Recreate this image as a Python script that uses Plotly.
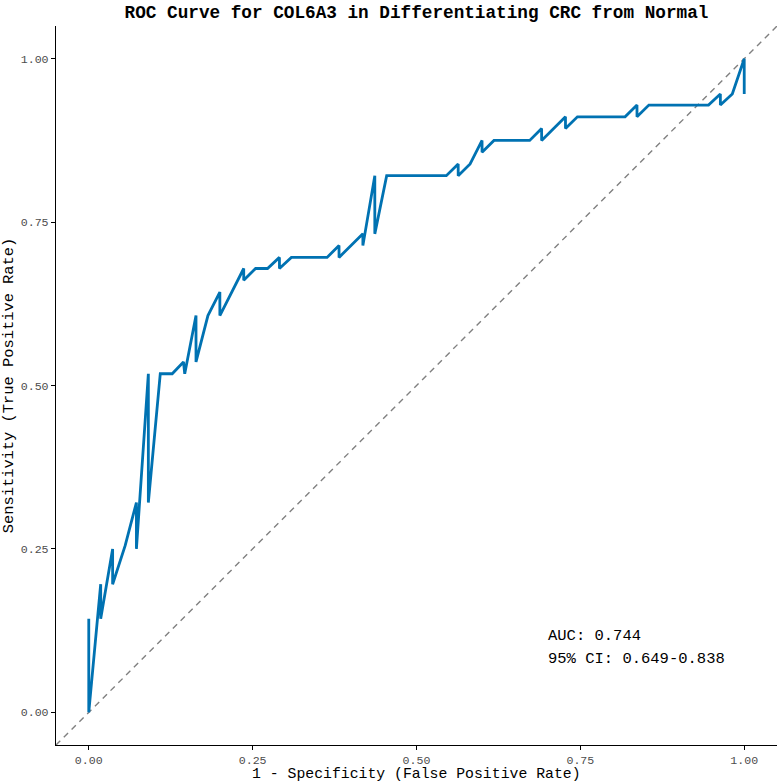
import plotly.graph_objects as go

# ROC curve path as drawn (false positive rate, true positive rate)
fpr = [0.0, 0.0, 0.0182, 0.0182, 0.0364, 0.0364, 0.0555, 0.0727, 0.0727,
       0.0909, 0.0909, 0.1091, 0.1273, 0.1445, 0.1464, 0.1636, 0.1636, 0.1818,
       0.2, 0.2, 0.2364, 0.2364, 0.2545, 0.2727, 0.2909, 0.2909, 0.3091,
       0.3636, 0.3818, 0.3818, 0.4182, 0.4182, 0.4364, 0.4364, 0.4545,
       0.5455, 0.5636, 0.5636, 0.5818, 0.6, 0.6, 0.6182, 0.6727, 0.6909,
       0.6909, 0.7273, 0.7273, 0.7455, 0.8182, 0.8364, 0.8364, 0.8545,
       0.9455, 0.9636, 0.9636, 0.9818, 1.0, 1.0]
tpr = [0.143, 0.0, 0.196, 0.143, 0.25, 0.196, 0.255, 0.321, 0.25,
       0.518, 0.321, 0.518, 0.518, 0.536, 0.518, 0.607, 0.536, 0.607,
       0.643, 0.607, 0.679, 0.661, 0.679, 0.679, 0.696, 0.679, 0.696,
       0.696, 0.714, 0.696, 0.732, 0.714, 0.821, 0.732, 0.821,
       0.821, 0.839, 0.821, 0.839, 0.875, 0.857, 0.875, 0.875, 0.893,
       0.875, 0.911, 0.893, 0.911, 0.911, 0.929, 0.911, 0.929,
       0.929, 0.946, 0.929, 0.946, 1.0, 0.946]

ref_line = [-0.05, 1.05]
tick_vals = [0.0, 0.25, 0.5, 0.75, 1.0]
tick_text = ["0.00", "0.25", "0.50", "0.75", "1.00"]
auc_text = "AUC: 0.744"
ci_text = "95% CI: 0.649-0.838"
x_title = "1 - Specificity (False Positive Rate)"
y_title = "Sensitivity (True Positive Rate)"

FONT = "Liberation Mono"

fig = go.Figure()
fig.add_trace(go.Scatter(x=ref_line, y=ref_line, mode="lines",
                         line=dict(color="#808080", width=1.4, dash="6px,5px"),
                         hoverinfo="skip", showlegend=False))
fig.add_trace(go.Scatter(x=fpr, y=tpr, mode="lines",
                         line=dict(color="#0072B2", width=2.8),
                         showlegend=False))

fig.add_annotation(x=0.698, y=0.117, xref="x", yref="y", text=auc_text,
                   showarrow=False, xanchor="left", yanchor="middle",
                   font=dict(family=FONT, size=15.5, color="black"))
fig.add_annotation(x=0.698, y=0.082, xref="x", yref="y", text=ci_text,
                   showarrow=False, xanchor="left", yanchor="middle",
                   font=dict(family=FONT, size=15.5, color="black"))
# x-axis title placed explicitly below the tick labels
fig.add_annotation(x=0.5, y=0, xref="paper", yref="paper", text=x_title,
                   showarrow=False, xanchor="center", yanchor="bottom",
                   yshift=-38, borderpad=0,
                   font=dict(family=FONT, size=14.8, color="black"))

axis_common = dict(range=[-0.05, 1.05], tickvals=tick_vals, ticktext=tick_text,
                   showgrid=False, zeroline=False, showline=True,
                   linecolor="black", linewidth=1.2, ticks="outside",
                   ticklen=4, tickcolor="black", tickwidth=1.2,
                   tickfont=dict(family=FONT, size=11.6, color="#4d4d4d"))

fig.update_layout(
    width=779, height=783,
    margin=dict(l=56, r=2, t=26, b=38),
    plot_bgcolor="white", paper_bgcolor="white",
    title=dict(text="<b>ROC Curve for COL6A3 in Differentiating CRC from Normal</b>",
               x=0.5, xref="paper", xanchor="center",
               y=1 - 12 / 783, yref="container", yanchor="middle",
               font=dict(family=FONT, size=17.7, color="black")),
    xaxis=dict(**axis_common),
    yaxis=dict(**axis_common,
               title=dict(text=y_title, standoff=4,
                          font=dict(family=FONT, size=15.4, color="black"))),
)

fig.write_html("out.html")
